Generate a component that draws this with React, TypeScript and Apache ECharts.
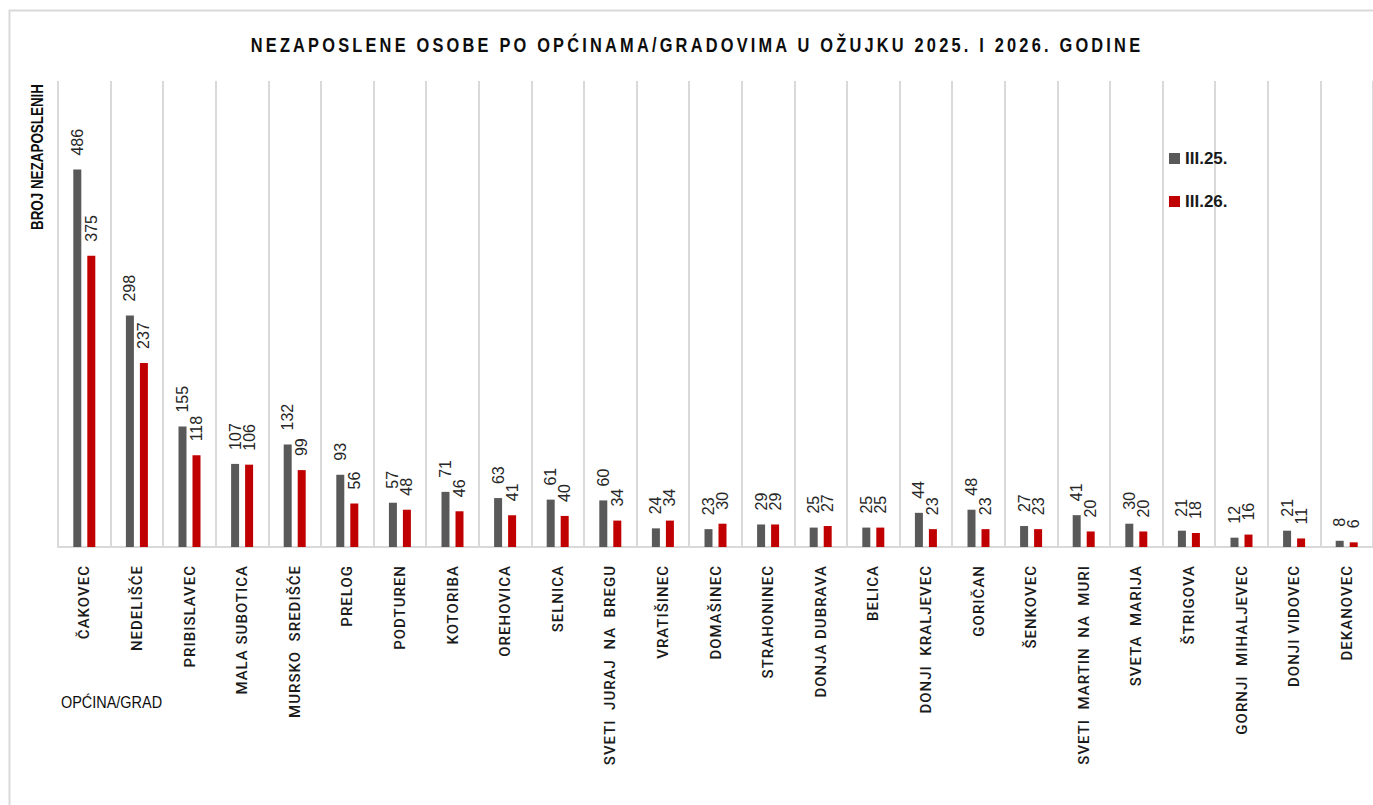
import React, { useEffect, useRef } from "react";
import * as echarts from "echarts";

const categories = [
  "ČAKOVEC", "NEDELIŠĆE", "PRIBISLAVEC", "MALA SUBOTICA", "MURSKO  SREDIŠĆE",
  "PRELOG", "PODTUREN", "KOTORIBA", "OREHOVICA", "SELNICA",
  "SVETI  JURAJ  NA  BREGU", "VRATIŠINEC", "DOMAŠINEC", "STRAHONINEC", "DONJA DUBRAVA",
  "BELICA", "DONJI  KRALJEVEC", "GORIČAN", "ŠENKOVEC", "SVETI  MARTIN  NA  MURI",
  "SVETA  MARIJA", "ŠTRIGOVA", "GORNJI  MIHALJEVEC", "DONJI VIDOVEC", "DEKANOVEC",
];
const values2025 = [486, 298, 155, 107, 132, 93, 57, 71, 63, 61, 60, 24, 23, 29, 25, 25, 44, 48, 27, 41, 30, 21, 12, 21, 8];
const values2026 = [375, 237, 118, 106, 99, 56, 48, 46, 41, 40, 34, 34, 30, 29, 27, 25, 23, 23, 23, 20, 20, 18, 16, 11, 6];
const seriesNames = ["III.25.", "III.26."];
const seriesColors = ["#595959", "#c00000"];
const titleText = "NEZAPOSLENE OSOBE PO OPĆINAMA/GRADOVIMA U OŽUJKU 2025. I 2026. GODINE";
const yAxisName = "BROJ NEZAPOSLENIH";
const xAxisName = "OPĆINA/GRAD";

const SANS = "'Liberation Sans', Arial, sans-serif";
const LABEL_FONT = "Roboto, 'Liberation Sans', sans-serif";

export default function App() {
  const ref = useRef<HTMLDivElement>(null);
  useEffect(() => {
    const el = ref.current as HTMLDivElement;
    const chart = echarts.init(el, null, { renderer: "svg" });
    const makeSeries = (i: number, data: number[]) => ({
      name: seriesNames[i],
      type: "bar",
      data,
      barWidth: 8,
      barGap: "75%",
      itemStyle: { color: seriesColors[i] },
      label: {
        show: true,
        position: "top",
        rotate: 90,
        align: "left",
        verticalAlign: "middle",
        distance: 14,
        fontFamily: SANS,
        fontSize: 16,
        color: "#262626",
      },
    });
    chart.setOption({
      animation: false,
      backgroundColor: "#ffffff",
      grid: { left: 58, width: 1326, top: 81, bottom: 258, containLabel: false },
      legend: {
        orient: "vertical",
        left: 1164,
        top: 145,
        itemWidth: 11,
        itemHeight: 11,
        itemGap: 26,
        icon: "rect",
        data: seriesNames,
        textStyle: { fontFamily: SANS, fontWeight: "bold", fontSize: 17, color: "#1a1a1a" },
      },
      xAxis: {
        type: "category",
        data: categories,
        axisTick: { show: false },
        axisLine: { show: true, lineStyle: { color: "#d9d9d9", width: 2 } },
        splitLine: { show: true, lineStyle: { color: "#d9d9d9", width: 2 } },
        axisLabel: {
          interval: 0,
          rotate: 90,
          margin: 18,
          fontFamily: LABEL_FONT,
          fontWeight: 500,
          fontSize: 15,
          color: "#1a1a1a",
        },
      },
      yAxis: { type: "value", min: 0, max: 600, show: false },
      series: [makeSeries(0, values2025), makeSeries(1, values2026)],
      graphic: [
        {
          type: "rect",
          silent: true,
          shape: { x: 9.5, y: 10.5, width: 1500, height: 900 },
          style: { fill: "none", stroke: "#d9d9d9", lineWidth: 2 },
        },
        {
          type: "text",
          x: 697,
          y: 45,
          scaleX: 0.78,
          style: {
            text: titleText,
            align: "center",
            verticalAlign: "middle",
            textAlign: "center",
            textVerticalAlign: "middle",
            font: `bold 21px ${SANS}`,
            fill: "#0d0d0d",
          },
        },
        {
          type: "text",
          x: 37,
          y: 84,
          rotation: Math.PI / 2,
          scaleX: 0.79,
          style: {
            text: yAxisName,
            align: "right",
            verticalAlign: "middle",
            textAlign: "right",
            textVerticalAlign: "middle",
            font: `bold 17px ${SANS}`,
            fill: "#0d0d0d",
          },
        },
        {
          type: "text",
          x: 61,
          y: 702,
          scaleX: 0.85,
          style: {
            text: xAxisName,
            align: "left",
            verticalAlign: "middle",
            textAlign: "left",
            textVerticalAlign: "middle",
            font: `17px ${SANS}`,
            fill: "#0d0d0d",
          },
        },
      ],
    });
    const catSet = new Set(categories);
    const applySpacing = () => {
      el.querySelectorAll("text").forEach((t) => {
        const s = t.textContent || "";
        if (s === titleText) t.setAttribute("letter-spacing", "4.1");
        else if (catSet.has(s)) t.setAttribute("letter-spacing", "1");
      });
    };
    applySpacing();
    chart.on("finished", applySpacing);
    const timer = setTimeout(applySpacing, 30);
    return () => {
      clearTimeout(timer);
      chart.dispose();
    };
  }, []);
  return (
    <div
      ref={ref}
      style={{ position: "fixed", left: 0, top: 0, width: 1373, height: 805, overflow: "hidden" }}
    />
  );
}
